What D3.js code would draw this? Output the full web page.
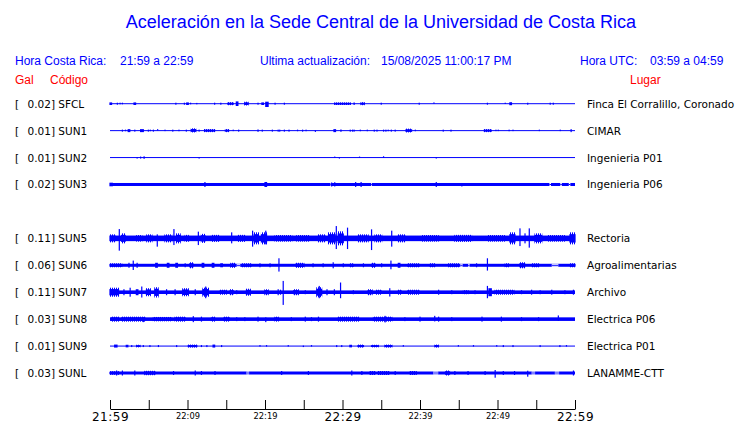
<!DOCTYPE html>
<html>
<head>
<meta charset="utf-8">
<script src="https://cdn.jsdelivr.net/npm/d3@7"></script>
<style>
  body { margin: 0; background: #fff; }
  svg { display: block; }
  text { white-space: pre; }
</style>
</head>
<body>
<div class="chart"></div>
<script>
// stations, top to bottom (SUN4 has no data, its row stays empty)
var codes  = ["SFCL", "SUN1", "SUN2", "SUN3", "SUN4", "SUN5", "SUN6", "SUN7", "SUN8", "SUN9", "SUNL"];
var peaks  = [0.02, 0.01, 0.01, 0.02, null, 0.11, 0.06, 0.11, 0.03, 0.01, 0.03];
var places = ["Finca El Corralillo, Coronado", "CIMAR", "Ingenieria P01", "Ingenieria P06", "",
              "Rectoria", "Agroalimentarias", "Archivo", "Electrica P06", "Electrica P01", "LANAMME-CTT"];
// background noise amplitude of each trace (relative counts)
var noise  = [0.5, 0.5, 0.5, 1.5, null, 2.8, 1.5, 1.8, 1.8, 0.5, 1.5];

// time axis: minutes after 21:59, ticks every 5 min
var tickMinutes = [0, 5, 10, 15, 20, 25, 30, 35, 40, 45, 50, 55, 60];
var tickLabels  = ["21:59", "", "22:09", "", "22:19", "", "22:29", "", "22:39", "", "22:49", "", "22:59"];
var bigLabels   = ["21:59", "22:29", "22:59"];

// bursts: [start min, end min, amp up, amp down]
var sfclBursts = [[0,0.2,1.3,1.3],[0.95,0.95,1,1],[1.3,1.3,1,0.6],[1.6,1.6,1,0.6],[3.1,3.3,1.3,1.3],[8.5,8.5,1,1],[9.6,9.6,1,1],[9.9,10.1,1.3,1.3],[10.4,10.4,1,0.6],[11.2,11.2,0.8,0.6],[13.5,13.5,1,1],[14.3,14.3,1,1],[15.2,15.9,1.5,1.5],[16.3,16.5,2.3,2.3],[17.4,17.8,2,1.8],[19.1,19.1,1,1],[19.6,19.8,1.3,1.3],[20.1,20.4,2,3.3],[21.3,21.3,1,1],[22.5,22.5,1,1],[29.0,31.0,1.3,1.3],[31.5,31.5,1.3,1.3],[32.4,32.8,1.5,1.5],[35.0,35.0,1,1],[39.9,39.9,1,1],[41.8,41.8,1.3,0],[48.7,48.7,1,1],[51.0,51.0,1,0.3],[51.6,51.8,1.5,1.5],[53.9,53.9,1,1],[56.8,56.8,1,1],[57.2,57.2,1,1]];
var sun1Bursts = [[1.6,1.6,1,1],[2.0,2.0,1,0.6],[2.35,2.55,1.5,1.5],[3.2,3.2,1,1],[3.95,4.3,1.5,1.5],[4.95,4.95,1,1],[5.2,5.2,1,0.6],[5.6,5.6,1,1],[6.15,6.15,1.5,0],[7.1,7.1,1,0.5],[8.1,8.1,1,1],[8.9,8.9,1,0.6],[9.85,9.85,1,1],[10.5,11.05,2.3,1.8],[11.5,11.5,1,1],[12.2,13.5,1.5,1.5],[14.9,15.3,1.5,1.5],[15.9,15.9,1,0.5],[16.6,16.6,1,1],[19.1,19.1,1.2,1.2],[19.65,19.65,1,1],[20.95,20.95,1,1],[21.7,21.7,1,1],[21.9,21.9,1,1],[22.5,22.5,1,1],[23.1,23.1,1,1],[24.2,24.2,1,0.6],[24.85,24.85,1,1],[25.3,25.3,1,0.6],[26.5,26.5,0.3,1.3],[28.9,29.1,1.5,1.5],[29.8,29.8,1.2,1.2],[31.0,31.0,1,1],[31.3,31.3,1,1],[31.5,31.5,1,1],[32.3,32.3,1,0.6],[33.2,33.2,1,0.6],[34.1,34.1,1,1],[34.45,34.45,1,1],[35.3,35.3,1,1],[35.6,35.6,1,1],[35.9,35.9,1,0.6],[36.3,36.3,1,1],[36.8,36.8,1,1],[38.2,38.9,2,1.8],[39.4,39.4,1,0.6],[43.0,43.0,1,1],[44.0,44.0,1,1],[48.3,49.2,1.5,1.5],[49.8,49.8,1,0.5],[50.1,50.1,1,0.5],[51.5,51.5,1,0.6],[52.0,52.0,1,0.5],[55.4,55.4,1,0.5],[58.1,58.1,1,0.5],[59.5,59.5,1.5,1.5]];
var sun2Bursts = [[3.5,3.5,0.3,1],[3.95,3.95,1,1],[4.4,4.4,1.3,1.3],[11.5,11.5,0.3,1],[29.0,29.0,1,0.3],[29.6,29.6,0.3,1],[32.2,32.2,1,0.3],[35.3,35.3,1.3,0.3],[42.1,42.1,0.3,1]];
var sun3Bursts = [[0,0.3,1.8,1.8],[12.25,12.25,2.5,2.5],[20.0,20.2,2.5,2.5],[28.6,28.6,2,2],[29.0,29.0,2.3,2],[31.7,31.7,2.5,2.5],[32.4,32.4,2.5,2.5],[42.1,42.1,2.5,2.5],[45.4,45.4,1.5,2]];
var sun5Bursts = [[0,0.65,4,4],[1.2,1.2,9.3,12.3],[1.5,1.95,5,5],[3.45,4.1,3.3,3.3],[4.75,5.4,4,4],[6.1,6.1,4,8.3],[7.1,7.95,4,4],[8.25,8.25,9.3,6.7],[8.6,9.05,5,5],[9.7,10.1,3.5,3.5],[11.4,11.4,6.7,6.7],[11.8,12.25,4.5,4.5],[13.1,14.0,3.5,3.5],[15.7,15.7,6,5],[16.55,17.4,3.5,3.5],[18.4,18.4,7.7,8.3],[18.6,19.15,6,6],[19.55,20.2,6,6],[20.1,20.1,7.7,6],[21.3,23.45,3.3,3.3],[24.1,25.6,3.3,3.3],[26.9,27.75,4,4],[28.2,29.05,6,6],[29.2,29.2,12.3,10.7],[29.45,30.1,7,7],[30.65,30.65,10.7,10.7],[32.05,33.3,4,4],[33.75,33.75,9,11.7],[34.2,35.05,4,4],[36.35,36.35,7.7,8.3],[37.2,38.05,4,4],[40.2,42.35,3.3,3.3],[44.5,46.65,3.5,3.5],[48.8,50.95,3.3,3.3],[51.6,52.25,6,6],[52.9,52.9,10,7.7],[53.55,53.55,5,5],[54.1,54.1,10,9.3],[54.85,55.7,5,5],[56.55,58.7,3.3,3.3],[59.35,60,6,6]];
var sun6Bursts = [[0,1.5,2,2],[2.45,2.45,2.5,2.5],[3.0,3.0,4.7,4.7],[3.5,3.5,2.5,2.5],[5.9,6.1,2.5,2.5],[7.4,7.6,2.5,2.5],[8.5,8.7,2.5,2.5],[9.7,9.7,2,2],[10.3,10.7,3,3],[11.9,12.1,2.5,2.5],[13.2,13.4,2.5,2.5],[14.3,14.5,2,2],[15.6,16.1,2.5,2.5],[17.0,18.2,2,2],[19.35,19.35,2,2],[20.65,20.65,2,2],[21.8,21.8,7,6.3],[24.0,25.0,2.5,2.5],[26.2,26.2,2,2],[27.5,27.5,2,2],[28.8,28.8,3,3],[30.1,30.1,2,2],[31.0,31.4,2,2],[32.7,32.7,2,2],[33.8,34.2,2.5,2.5],[35.05,35.05,2,2],[36.25,36.25,4.7,4],[37.2,37.4,2.5,2.5],[38.4,39.9,2,2],[41.3,41.9,2,2],[43.7,45.0,2,2],[47.3,47.3,2,2],[48.7,48.7,7,5.3],[51.0,51.4,2,2],[52.9,53.5,3,3],[54.5,55.3,2,2],[59.4,60,2,2]];
var sun7Bursts = [[0,1.1,4.5,4.5],[1.8,1.8,3,3],[2.6,2.6,4.5,4.5],[3.4,3.6,3,3],[4.1,4.1,5.7,5.3],[4.7,5.2,4,4],[5.8,6.2,5,5.3],[7.3,7.3,3,3],[8.4,8.4,3,3],[9.4,10.1,4,4],[11.0,11.0,3,3],[12.0,12.7,4.5,4.5],[12.35,12.35,5.7,6],[14.2,15.0,2.5,2.5],[15.5,15.9,3,3],[16.35,16.35,2,2],[17.6,18.1,3.5,3.5],[20.0,20.4,3,3],[21.7,21.7,3,3],[22.0,22.0,2.5,2.5],[22.35,22.35,11.3,12.7],[23.7,24.3,3,3],[25.2,25.2,2,2],[26.7,27.3,5,5],[27.0,27.0,6.3,6],[28.0,28.0,3,3],[28.95,28.95,3,3],[29.75,29.75,9.7,6],[31.4,31.4,2,2],[33.3,33.8,3,3],[34.4,35.0,2.5,2.5],[36.1,36.1,4,4.3],[37.2,37.6,2.5,2.5],[38.4,39.9,2.5,2.5],[42.4,42.4,2.5,2.5],[44.1,44.1,2,2],[45.6,46.2,2,2],[47.1,47.1,2,2],[48.7,48.7,6.3,6],[48.9,49.2,4,4],[49.7,52.1,2.5,2.5],[53.1,53.1,2,2],[54.4,54.4,2.5,2.5],[55.5,55.5,2,2],[57.0,57.0,2.5,2.5],[58.7,58.7,2,2],[59.8,59.8,2.5,2.5]];
var sun8Bursts = [[0.2,1.1,2.5,2.5],[1.5,4.5,2.5,2.5],[4.3,4.3,1.8,3],[5.6,7.95,2.2,2.2],[8.4,9.7,2.5,2.5],[10.75,10.75,3,3],[11.8,11.8,2.5,2.5],[13.1,13.5,2.5,2.5],[14.7,15.4,2.5,2.5],[16.35,16.35,2,2],[17.4,17.4,2,2],[19.1,19.1,2.5,2.5],[20.1,20.1,1.8,3],[21.3,21.7,2.5,2.5],[23.4,23.4,2,2],[25.2,25.2,2.5,2.5],[26.0,26.0,2,2],[26.9,26.9,2.5,2.5],[29.45,32.05,2.5,2.5],[34.0,36.35,2.5,2.5],[35.5,35.5,3.3,3.3],[38.05,38.05,2,2],[40.0,40.0,2.5,2.5],[41.9,41.9,3.3,2.3],[42.4,42.4,2.5,2.5],[44.1,44.1,2,2],[48.0,48.0,2.5,2.5],[50.5,50.5,2.5,2.5],[53.1,53.1,2,2],[55.3,55.3,2,2],[57.85,57.85,3.7,1.8]];
var sun9Bursts = [[0.6,0.9,1.5,1.5],[2.1,2.3,1.3,1.3],[2.8,2.8,1,1],[3.45,3.85,1.3,1.3],[4.3,4.3,1,1],[5.15,5.15,1,1],[6.25,6.25,1,1],[8.6,8.6,1,1],[10.1,11.2,1.5,1.5],[11.8,11.8,1,1],[12.5,12.5,1,1],[13.3,13.5,1.5,1.5],[14.4,14.4,1,1],[19.35,19.35,1,0.5],[20.2,20.2,1,0.5],[23.0,23.0,1,0.5],[24.95,24.95,0.5,1],[26.0,26.0,1,0.5],[29.25,29.25,1,1],[29.9,29.9,1,1],[30.95,31.15,1.3,1.3],[32.0,32.7,1.5,1.5],[33.75,34.6,1.3,1.3],[35.5,36.35,1.5,1.5],[37.85,37.85,1,0.5],[41.95,42.35,1.5,1.5],[44.95,44.95,1,0.5],[46.9,46.9,1,0.5],[49.9,49.9,1,0.5],[50.75,50.75,1,1],[52.0,52.0,1,1],[55.5,55.5,1,1],[58.05,58.05,1,1],[58.9,58.9,1,0.5]];
var sunlBursts = [[0,1.1,1.8,1.8],[0.85,0.85,2.5,2.5],[1.6,1.6,2.5,2.5],[3.2,3.2,2.5,2.5],[4.5,5.8,2.2,2.2],[8.2,8.2,2,2],[11.0,11.0,2.5,2.5],[11.8,11.8,2,2],[13.55,13.55,2,2],[22.15,22.15,2,2],[25.6,25.6,2,2],[31.2,31.2,2.5,2.5],[32.5,32.5,2,2],[33.5,34.2,2,2],[34.6,36.0,2,2],[36.8,36.8,2,2],[38.7,39.5,2,2],[43.3,43.8,2.5,2.5],[44.5,44.5,2,2],[46.2,46.2,2,2],[48.4,48.4,2,2],[49.7,49.7,3,4.7],[50.75,50.75,2,2],[52.2,52.2,2,2],[53.9,53.9,2.3,3.7],[59.8,59.8,2.5,2.5]];

// stretches where the band drops to a thin line: [start min, end min]
var sun3Gaps = [[28.45,28.55],[33.7,33.8],[56.7,56.9],[58.1,58.3],[59.2,59.4]];
var sun6Gaps = [[16.35,16.8],[45.2,45.5],[46.2,46.4],[57.0,57.85]];
var sunlGaps = [[17.6,17.95],[41.7,42.35],[54.4,54.85],[57.4,57.95]];

var bursts = [sfclBursts, sun1Bursts, sun2Bursts, sun3Bursts, [], sun5Bursts, sun6Bursts, sun7Bursts, sun8Bursts, sun9Bursts, sunlBursts];
var gaps   = [[], [], [], sun3Gaps, [], [], sun6Gaps, [], [], [], sunlGaps];

var svgWidth = 740;
var svgHeight = 423;
var blue = "#0000ff";
var red = "#ff0000";
var arial = "'Liberation Sans', Arial, sans-serif";
var dejavu = "'DejaVu Sans', sans-serif";

var svg = d3.select(".chart")
  .append("svg")
  .attr("width", svgWidth)
  .attr("height", svgHeight);

// vertical hatching so wide bursts look like dense wiggles, not solid blocks
var pat = svg.append("defs").append("pattern")
  .attr("id", "wiggle")
  .attr("patternUnits", "userSpaceOnUse")
  .attr("width", 2).attr("height", 4);
pat.append("rect").attr("x", 0).attr("y", 0).attr("width", 1).attr("height", 4).attr("fill", blue);

var t0 = new Date(2025, 7, 15, 21, 59);
var toDate = function(m) { return new Date(t0.getTime() + m * 60000); };

var x = d3.scaleTime()
  .domain([toDate(0), toDate(60)])
  .range([110, 575]);

var row = d3.scalePoint()
  .domain(codes)
  .range([103.7, 373]);

// amplitude in counts -> pixels
var amp = d3.scaleLinear().domain([0, 10]).range([0, 10]);

// title + header
svg.append("text")
  .attr("x", 381).attr("y", 28)
  .attr("text-anchor", "middle")
  .style("font-family", arial).style("font-size", "18px")
  .attr("fill", blue)
  .text("Aceleración en la Sede Central de la Universidad de Costa Rica");

var header = [
  ["Hora Costa Rica:", 15], ["21:59 a 22:59", 120],
  ["Ultima actualización:", 260], ["15/08/2025 11:00:17 PM", 381],
  ["Hora UTC:", 580], ["03:59 a 04:59", 650]
];
svg.selectAll(".hdr")
  .data(header)
  .enter().append("text")
  .attr("class", "hdr")
  .attr("x", function(d) { return d[1]; })
  .attr("y", 65)
  .style("font-family", arial).style("font-size", "12px")
  .attr("fill", blue)
  .text(function(d) { return d[0]; });

svg.selectAll(".sub")
  .data([["Gal", 15], ["Código", 50], ["Lugar", 630]])
  .enter().append("text")
  .attr("class", "sub")
  .attr("x", function(d) { return d[1]; })
  .attr("y", 84)
  .style("font-family", arial).style("font-size", "12px")
  .attr("fill", red)
  .text(function(d) { return d[0]; });

// station labels
var st = codes.map(function(c, i) {
  return { code: c, peak: peaks[i], place: places[i], noise: noise[i], bursts: bursts[i], gaps: gaps[i] };
}).filter(function(d) { return d.peak != null; });

var labels = svg.append("g")
  .style("font-family", dejavu).style("font-size", "10.5px")
  .attr("fill", "#000");

labels.selectAll(".br")
  .data(st).enter().append("text")
  .attr("x", 15)
  .attr("y", function(d) { return row(d.code) + 4; })
  .text("[");

labels.selectAll(".val")
  .data(st).enter().append("text")
  .attr("x", 27.5)
  .attr("y", function(d) { return row(d.code) + 4; })
  .text(function(d) { return d3.format(".2f")(d.peak) + "] " + d.code; });

labels.selectAll(".place")
  .data(st).enter().append("text")
  .attr("x", 587)
  .attr("y", function(d) { return row(d.code) + 4; })
  .text(function(d) { return d.place; });

// traces
var traces = svg.append("g").attr("fill", blue);

st.forEach(function(d) {
  var cy = row(d.code);
  var g = traces.append("g");
  var h = Math.max(amp(d.noise), 0.5);
  var wide = function(b) { return x(toDate(b[1])) - x(toDate(b[0])) > 3; };

  // background band
  g.append("rect")
    .attr("x", x(toDate(0)))
    .attr("y", cy - h)
    .attr("width", x(toDate(60)) - x(toDate(0)))
    .attr("height", 2 * h);

  // quiet stretches
  g.selectAll(".gap")
    .data(d.gaps).enter().append("rect")
    .attr("x", function(b) { return x(toDate(b[0])); })
    .attr("y", cy - h)
    .attr("width", function(b) { return x(toDate(b[1])) - x(toDate(b[0])); })
    .attr("height", 2 * h)
    .attr("fill", "#fff");
  g.selectAll(".gapline")
    .data(d.gaps).enter().append("rect")
    .attr("x", function(b) { return x(toDate(b[0])); })
    .attr("y", cy - 0.5)
    .attr("width", function(b) { return x(toDate(b[1])) - x(toDate(b[0])); })
    .attr("height", 1);

  // bursts: solid core at ~70%, hatched out to full amplitude
  g.selectAll(".burst")
    .data(d.bursts).enter().append("rect")
    .attr("x", function(b) { return x(toDate(b[0])) - 0.6; })
    .attr("y", function(b) { return cy - amp(b[2]); })
    .attr("width", function(b) { return Math.max(x(toDate(b[1])) - x(toDate(b[0])), 0) + 1.2; })
    .attr("height", function(b) { return Math.max(amp(b[2]) + amp(b[3]), 1); })
    .attr("fill", function(b) { return wide(b) ? "url(#wiggle)" : blue; });

  g.selectAll(".core")
    .data(d.bursts.filter(wide)).enter().append("rect")
    .attr("x", function(b) { return x(toDate(b[0])) - 0.6; })
    .attr("y", function(b) { return cy - amp(b[2]) * 0.7; })
    .attr("width", function(b) { return x(toDate(b[1])) - x(toDate(b[0])) + 1.2; })
    .attr("height", function(b) { return (amp(b[2]) + amp(b[3])) * 0.7; });
});

// time axis, ticks point up
var axis = d3.axisBottom(x)
  .tickValues(tickMinutes.map(toDate))
  .tickSize(-9)
  .tickSizeOuter(0)
  .tickFormat(function(d, i) { return tickLabels[i]; });

var ax = svg.append("g")
  .attr("transform", "translate(0,409)")
  .call(axis);

ax.select(".domain").attr("stroke", "#000");
ax.selectAll(".tick line").attr("stroke", "#000");
ax.selectAll(".tick text")
  .attr("fill", "#000")
  .attr("dy", 0)
  .style("font-family", dejavu)
  .attr("y", function() { return bigLabels.indexOf(this.textContent) >= 0 ? 12 : 9.5; })
  .style("font-size", function() { return bigLabels.indexOf(this.textContent) >= 0 ? "12px" : "8.3px"; })
  .style("letter-spacing", function() { return bigLabels.indexOf(this.textContent) >= 0 ? "0.5px" : "0"; });
</script>
</body>
</html>
